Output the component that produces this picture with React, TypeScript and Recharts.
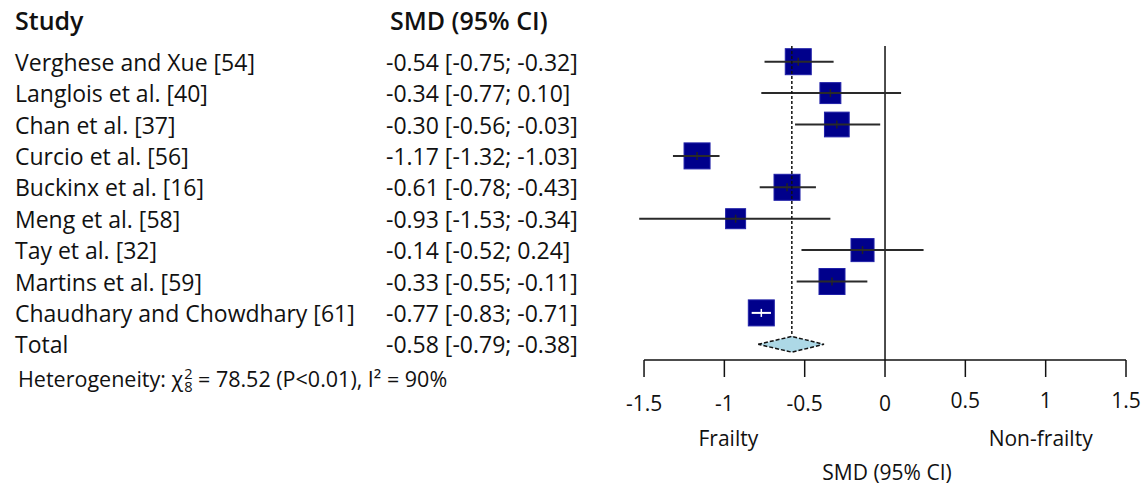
import React from "react";
import { ScatterChart, Scatter, XAxis, YAxis, ZAxis } from "recharts";

const studies = [
  "Verghese and Xue [54]",
  "Langlois et al. [40]",
  "Chan et al. [37]",
  "Curcio et al. [56]",
  "Buckinx et al. [16]",
  "Meng et al. [58]",
  "Tay et al. [32]",
  "Martins et al. [59]",
  "Chaudhary and Chowdhary [61]",
];
const smd = [-0.54, -0.34, -0.3, -1.17, -0.61, -0.93, -0.14, -0.33, -0.77];
const lower = [-0.75, -0.77, -0.56, -1.32, -0.78, -1.53, -0.52, -0.55, -0.83];
const upper = [-0.32, 0.1, -0.03, -1.03, -0.43, -0.34, 0.24, -0.11, -0.71];
const weights = [12.6, 8.2, 11.4, 12.6, 12.6, 7.5, 9.9, 12.6, 12.6];

const total = { smd: -0.58, lo: -0.79, hi: -0.38 };
const xTicks = [-1.5, -1, -0.5, 0, 0.5, 1, 1.5];

const FONT = "'Open Sans', sans-serif";
const totalRow = studies.length + 1;
const rowTicks = Array.from({ length: totalRow }, (_, i) => i + 1);

const fmt = (v: number) => v.toFixed(2);
const ciText = (e: number, l: number, h: number) => `${fmt(e)} [${fmt(l)}; ${fmt(h)}]`;

const boxes = studies.map((name, i) => ({
  name,
  x: smd[i],
  y: i + 1,
  w: weights[i],
  lo: lower[i],
  hi: upper[i],
}));

const RowLabel = (props: any) => {
  const { y, payload } = props;
  const i = payload.value - 1;
  const isTotal = payload.value === totalRow;
  const name = isTotal ? "Total" : studies[i];
  const ci = isTotal ? ciText(total.smd, total.lo, total.hi) : ciText(smd[i], lower[i], upper[i]);
  return (
    <g fontFamily={FONT} fontSize={23} fill="#111">
      <text x={15} y={y} dominantBaseline="central">{name}</text>
      <text x={386} y={y} dominantBaseline="central">{ci}</text>
    </g>
  );
};

const AxisTick = (props: any) => {
  const { x, y, payload } = props;
  const v = payload.value;
  return (
    <g fontFamily={FONT} fontSize={21} fill="#111" textAnchor="middle">
      <text x={x} y={y + (v > 0 ? 23 : 26)} dominantBaseline="central">{v}</text>
      {v === -1 && <text x={x + 4} y={y + 61} dominantBaseline="central">Frailty</text>}
      {v === 1 && <text x={x - 5} y={y + 61} dominantBaseline="central">Non-frailty</text>}
      {v === 0 && <text x={x + 2} y={y + 95} dominantBaseline="central">SMD (95% CI)</text>}
    </g>
  );
};

const Box = (props: any) => {
  const { cx, cy, size, payload } = props;
  const s = Math.sqrt(size);
  const inside = payload.hi - payload.lo < 0.2;
  return (
    <g>
      <rect x={cx - s / 2} y={cy - s / 2} width={s} height={s} fill="#00008b" stroke="#2020a8" strokeWidth={1} />
      <line x1={cx} x2={cx} y1={cy - 4} y2={cy + 4} stroke={inside ? "#fff" : "#222"} strokeWidth={1.5} />
    </g>
  );
};

const Nothing = () => <g />;

export default function App() {
  return (
    <div style={{ position: "absolute", left: 0, top: 0, width: 1146, height: 485, background: "#fff" }}>
      <ScatterChart width={1146} height={485} margin={{ top: 46, right: 20, bottom: 0, left: 0 }}>
        <XAxis
          type="number"
          dataKey="x"
          domain={[-1.55, 1.5]}
          ticks={xTicks}
          axisLine={false}
          tickLine={{ stroke: "#111", strokeWidth: 1.5 }}
          tickSize={17}
          tickMargin={0}
          height={125}
          tick={<AxisTick />}
          interval={0}
        />
        <YAxis
          type="number"
          dataKey="y"
          domain={[0.5, totalRow + 0.5]}
          ticks={rowTicks}
          reversed
          width={636}
          axisLine={false}
          tickLine={false}
          tick={<RowLabel />}
          interval={0}
        />
        <ZAxis type="number" dataKey="w" domain={["dataMin", "dataMax"]} range={[400, 676]} />

        <Scatter
          data={[{ x: 0, y: 0.5 }, { x: 0, y: totalRow + 0.5 }]}
          line={{ stroke: "#111", strokeWidth: 1.5 }}
          shape={<Nothing />}
          isAnimationActive={false}
        />
        <Scatter
          data={[{ x: -1.5, y: totalRow + 0.5 }, { x: 1.5, y: totalRow + 0.5 }]}
          line={{ stroke: "#111", strokeWidth: 1.5 }}
          shape={<Nothing />}
          isAnimationActive={false}
        />

        <Scatter data={boxes} shape={<Box />} isAnimationActive={false} />

        {boxes.map((b) => (
          <Scatter
            key={b.name}
            data={[{ x: b.lo, y: b.y }, { x: b.hi, y: b.y }]}
            line={{ stroke: b.hi - b.lo < 0.2 ? "#fff" : "#2a2a2a", strokeWidth: 2 }}
            shape={<Nothing />}
            isAnimationActive={false}
          />
        ))}

        <Scatter
          data={[{ x: total.smd, y: 0.5 }, { x: total.smd, y: totalRow - 0.25 }]}
          line={{ stroke: "#111", strokeWidth: 1.5, strokeDasharray: "3 2" }}
          shape={<Nothing />}
          isAnimationActive={false}
        />
        <Scatter
          data={[
            { x: total.lo, y: totalRow },
            { x: total.smd, y: totalRow - 0.25 },
            { x: total.hi, y: totalRow },
            { x: total.smd, y: totalRow + 0.25 },
            { x: total.lo, y: totalRow },
          ]}
          line={{ stroke: "#111", strokeWidth: 1.5, strokeDasharray: "4 2", fill: "#add8e6" }}
          lineType="joint"
          shape={<Nothing />}
          isAnimationActive={false}
        />
      </ScatterChart>

      {/* column headers */}
      <div
        style={{
          position: "absolute",
          left: 15,
          top: 4,
          fontFamily: FONT,
          fontSize: 25,
          fontWeight: 600,
          color: "#111",
          lineHeight: "32px",
          whiteSpace: "nowrap",
        }}
      >
        <span style={{ position: "absolute", left: 0 }}>Study</span>
        <span style={{ position: "absolute", left: 375 }}>SMD (95% CI)</span>
      </div>

      {/* heterogeneity line */}
      <div
        style={{
          position: "absolute",
          left: 18,
          top: 365,
          fontFamily: FONT,
          fontSize: 21.5,
          color: "#111",
          whiteSpace: "nowrap",
          lineHeight: "28px",
        }}
      >
        Heterogeneity: χ
        <span style={{ display: "inline-block", position: "relative", width: "0.55em", height: "1em", marginRight: 3 }}>
          <span style={{ position: "absolute", left: 1, top: "0.02em", fontSize: "0.68em", lineHeight: 1 }}>2</span>
          <span style={{ position: "absolute", left: 1, top: "0.92em", fontSize: "0.68em", lineHeight: 1 }}>8</span>
        </span>
        = 78.52 (P&lt;0.01), I² = 90%
      </div>
    </div>
  );
}
